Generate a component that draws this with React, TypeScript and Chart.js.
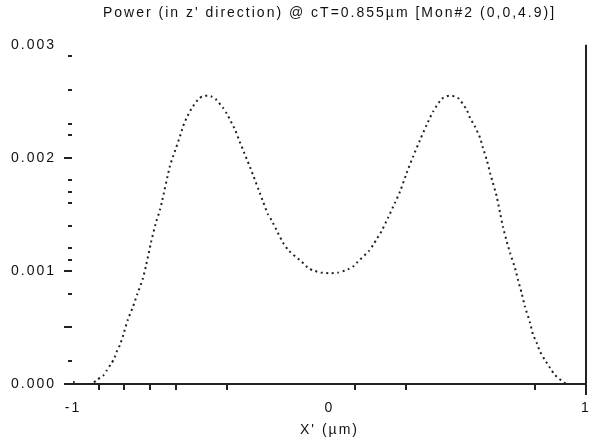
import React, { useEffect, useRef } from 'react';
import { Chart, registerables } from 'chart.js';

Chart.register(...registerables);

const TITLE = "Power (in z' direction) @ cT=0.855µm [Mon#2 (0,0,4.9)]";
const X_TITLE = "X' (µm)";

const xValues = [
  -1.0, -0.98, -0.927, -0.908, -0.883, -0.869, -0.853, -0.84, -0.828, -0.817,
  -0.804, -0.786, -0.766, -0.75, -0.728, -0.715, -0.696, -0.678, -0.661, -0.654,
  -0.622, -0.61, -0.598, -0.583, -0.571, -0.557, -0.537, -0.509, -0.493, -0.476,
  -0.459, -0.444, -0.415, -0.4, -0.384, -0.368, -0.353, -0.337, -0.323, -0.31,
  -0.259, -0.24, -0.225, -0.201, -0.181, -0.158, -0.108, -0.08, -0.057, -0.034,
  0.0, 0.033, 0.06, 0.076, 0.095, 0.107, 0.154, 0.17, 0.184, 0.204,
  0.228, 0.255, 0.275, 0.301, 0.326, 0.353, 0.379, 0.404, 0.437, 0.457,
  0.474, 0.489, 0.505, 0.535, 0.548, 0.567, 0.587, 0.598, 0.613, 0.626,
  0.637, 0.652, 0.665, 0.676, 0.691, 0.704, 0.723, 0.735, 0.749, 0.762,
  0.782, 0.793, 0.808, 0.821, 0.84, 0.86, 0.879, 0.925, 0.977,
];

const powerValues = [
  0.00002, 0.0, 0.0, 0.000035, 0.000073, 0.000118, 0.000174, 0.000221, 0.000295, 0.000345,
  0.000434, 0.00057, 0.000684, 0.00079, 0.00093, 0.00105, 0.00125, 0.001416, 0.00154, 0.001604,
  0.00193, 0.002012, 0.00209, 0.00219, 0.002277, 0.002354, 0.00244, 0.002525, 0.002545, 0.00255,
  0.002542, 0.00252, 0.002442, 0.00239, 0.002319, 0.002248, 0.002159, 0.002071, 0.00199, 0.00192,
  0.001613, 0.0015, 0.001445, 0.001336, 0.00125, 0.001177, 0.00108, 0.00102, 0.001, 0.000985,
  0.00098, 0.000985, 0.001003, 0.001018, 0.001044, 0.001074, 0.001177, 0.00123, 0.001281, 0.001357,
  0.001469, 0.001602, 0.001702, 0.001867, 0.002012, 0.002159, 0.002292, 0.00241, 0.002522, 0.002545,
  0.00255, 0.002542, 0.002522, 0.002425, 0.002354, 0.002277, 0.002177, 0.00209, 0.001982, 0.001867,
  0.001779, 0.001658, 0.001513, 0.001392, 0.00126, 0.001159, 0.001027, 0.00092, 0.000805, 0.000684,
  0.00054, 0.00044, 0.000363, 0.000286, 0.000212, 0.000142, 0.00008, 0.0, 0.0,
];

const xTickLabels = [-1, 0, 1];
const yTickLabels = [0, 0.001, 0.002, 0.003];
const xMinorTicks = [-0.9, -0.8, -0.7, -0.6, -0.4, 0.1, 0.3, 0.8];
const yMajorTicks = [0, 0.0005, 0.001, 0.002];
const yMinorTicks = [0.0002, 0.0008, 0.0011, 0.0012, 0.0014, 0.0016, 0.0017, 0.0018, 0.0022, 0.0023, 0.0026, 0.0029];

const FONT_FAMILY = "'Liberation Sans', Arial, sans-serif";
const INK = '#111';
const SPACING = '2px';

const spacingPlugin = {
  id: 'spacing',
  beforeLayout(chart: any) { chart.ctx.letterSpacing = SPACING; },
  beforeDraw(chart: any) { chart.ctx.letterSpacing = SPACING; },
};

const axisMarks = {
  id: 'axisMarks',
  afterDraw(chart: any) {
    const { ctx, chartArea, scales } = chart;
    const { left, right, top, bottom } = chartArea;
    const x = scales.x;
    const y = scales.y;
    ctx.save();
    ctx.fillStyle = '#222';
    ctx.fillRect(left - 2, bottom - 1, right - left + 2, 2);
    ctx.fillRect(right - 1, top, 2, bottom - top + 11);
    yMajorTicks.forEach((v) => {
      const py = Math.round(y.getPixelForValue(v));
      ctx.fillRect(left - 9, py - 1, 8, 2);
    });
    yMinorTicks.forEach((v) => {
      const py = Math.round(y.getPixelForValue(v));
      ctx.fillRect(left - 5, py - 1, 4, 2);
    });
    xMinorTicks.forEach((v) => {
      const px = Math.round(x.getPixelForValue(v));
      ctx.fillRect(px - 1, bottom, 2, 6);
    });
    ctx.restore();
  },
};

export default function App() {
  const ref = useRef<HTMLCanvasElement | null>(null);
  useEffect(() => {
    if (!ref.current) return;
    const font = { family: FONT_FAMILY, size: 14 };
    const chart = new Chart(ref.current, {
      type: 'line',
      data: {
        datasets: [
          {
            data: xValues.map((xv, i) => ({ x: xv, y: powerValues[i] })),
            borderColor: '#222',
            borderWidth: 2,
            borderDash: [2, 3.5],
            pointRadius: 0,
            tension: 0.2,
            fill: false,
          },
        ],
      },
      options: {
        animation: false,
        responsive: false,
        devicePixelRatio: 1,
        layout: { padding: { left: 10, right: 3, top: 0, bottom: 0 } },
        plugins: {
          legend: { display: false },
          tooltip: { enabled: false },
          title: {
            display: true,
            fullSize: false,
            text: TITLE,
            color: INK,
            font: { ...font, weight: 'normal' },
            padding: { top: 5, bottom: 23 },
          },
        },
        scales: {
          x: {
            type: 'linear',
            min: -1,
            max: 1,
            afterBuildTicks: (s: any) => { s.ticks = xTickLabels.map((v) => ({ value: v })); },
            afterFit: (s: any) => { s.height = 57; s.paddingLeft = 0; s.paddingRight = 0; },
            ticks: {
              color: INK,
              font,
              padding: 16,
              maxRotation: 0,
              autoSkip: false,
              callback: (v: any) => String(v),
            },
            grid: { display: false, drawTicks: false },
            border: { display: false },
            title: { display: true, text: X_TITLE, color: INK, font, padding: { top: 0, bottom: 2 } },
          },
          y: {
            type: 'linear',
            min: 0,
            max: 0.003,
            afterBuildTicks: (s: any) => { s.ticks = yTickLabels.map((v) => ({ value: v })); },
            afterFit: (s: any) => { s.width = 63; s.paddingTop = 0; s.paddingBottom = 0; },
            ticks: {
              color: INK,
              font,
              padding: 17,
              autoSkip: false,
              callback: (v: any) => Number(v).toFixed(3),
            },
            grid: { display: false, drawTicks: false },
            border: { display: false },
          },
        },
      },
      plugins: [spacingPlugin, axisMarks],
    } as any);
    return () => chart.destroy();
  }, []);
  return (
    <div style={{ position: 'absolute', left: 0, top: 0, width: 589, height: 441, background: '#fff' }}>
      <canvas ref={ref} width={589} height={441} style={{ display: 'block' }} />
    </div>
  );
}
